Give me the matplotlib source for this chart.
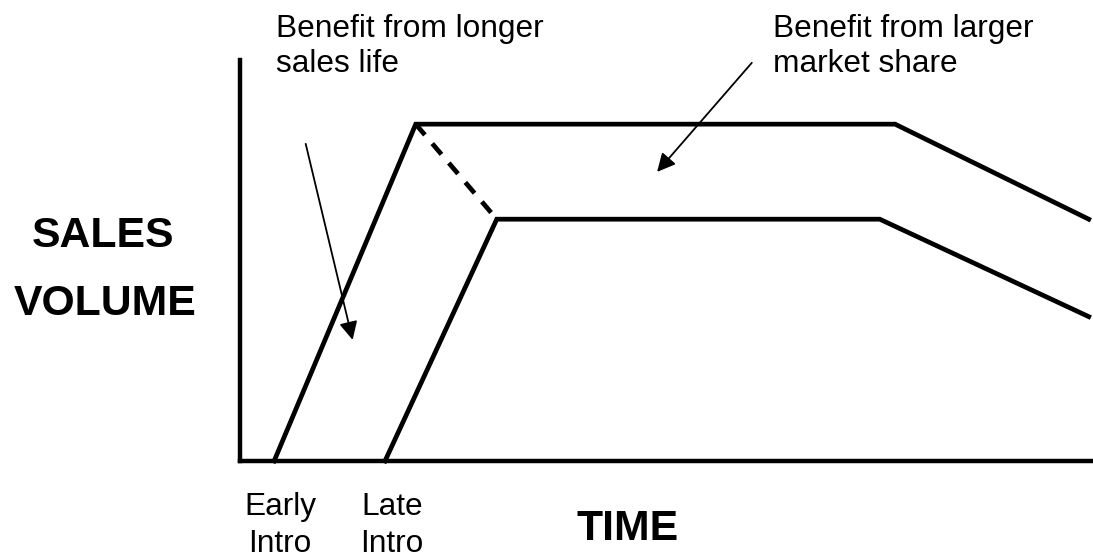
import matplotlib
matplotlib.use("Agg")
import matplotlib.pyplot as plt

# Data (time and sales volume in arbitrary units, 0-100)
early_time = [4, 20.6, 76.8, 99.5]
early_sales = [0, 84, 84, 60.3]
late_time = [17, 30.1, 75, 99.5]
late_sales = [0, 60.3, 60.3, 36]
lost_time = [20.6, 30.1]
lost_sales = [84, 60.3]

FONT = ["Liberation Sans", "DejaVu Sans"]
plt.rcParams["font.family"] = FONT

W, H = 1093, 557
fig = plt.figure(figsize=(W / 100, H / 100), dpi=100)
ax = fig.add_axes([240 / W, (H - 461) / H, (W - 240) / W, (461 - 60) / H])
ax.set_xlim(0, 100)
ax.set_ylim(0, 100)

lw = 3.4
ax.plot(early_time, early_sales, color="black", lw=lw, solid_joinstyle="miter", clip_on=False)
ax.plot(late_time, late_sales, color="black", lw=lw, solid_joinstyle="miter", clip_on=False)
ax.plot(lost_time, lost_sales, color="black", lw=lw, linestyle=(0, (3.0, 2.4)), clip_on=False)

for s in ["top", "right"]:
    ax.spines[s].set_visible(False)
for s in ["left", "bottom"]:
    ax.spines[s].set_linewidth(3.2)
ax.set_xticks([])
ax.set_yticks([])

arrowprops = dict(arrowstyle="-|>,head_length=1.1,head_width=0.55", color="black",
                  lw=1.3, shrinkA=0, shrinkB=0)
ax.annotate("", xy=(13.2, 30.2), xytext=(7.7, 79.1), arrowprops=arrowprops,
            annotation_clip=False)
ax.annotate("", xy=(48.9, 72.1), xytext=(60.0, 99.3), arrowprops=arrowprops,
            annotation_clip=False)

def ftext(x, y, s, **kw):
    fig.text(x / W, 1 - y / H, s, va="baseline", **kw)

fs = 22.8
ftext(276, 37, "Benefit from longer", fontsize=fs, ha="left")
ftext(276, 72, "sales life", fontsize=fs, ha="left")
ftext(773, 37, "Benefit from larger", fontsize=fs, ha="left")
ftext(773, 72, "market share", fontsize=fs, ha="left")

ftext(280, 515, "Early", fontsize=fs, ha="center")
ftext(280, 552, "Intro", fontsize=fs, ha="center")
ftext(392, 515, "Late", fontsize=fs, ha="center")
ftext(392, 552, "Intro", fontsize=fs, ha="center")

ftext(103, 247, "SALES", fontsize=30.8, fontweight="bold", ha="center")
ftext(105, 315, "VOLUME", fontsize=30.8, fontweight="bold", ha="center")
ftext(628, 540, "TIME", fontsize=30.8, fontweight="bold", ha="center")

fig.savefig("out.png", dpi=100)
